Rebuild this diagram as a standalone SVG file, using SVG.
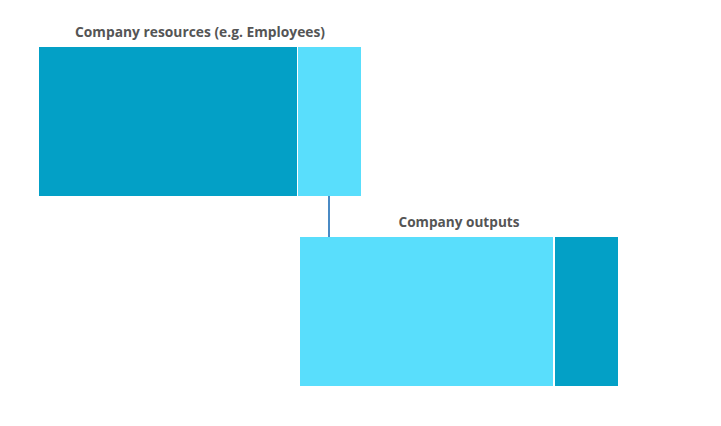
<svg xmlns="http://www.w3.org/2000/svg" width="721" height="426" viewBox="0 0 721 426">
<style>
.dark{fill:#03A0C6}
.light{fill:#59DEFC}
.lbl{font-family:"Open Sans","Liberation Sans",sans-serif;font-weight:bold;font-size:14px;fill:#555555;text-anchor:middle}
.conn{stroke:#4A8AC4;stroke-width:2;fill:none}
</style>
<rect width="721" height="426" fill="#ffffff"/>
<g id="connectors">
<line class="conn" x1="329" y1="196" x2="329" y2="237"/>
</g>
<g id="resources">
<text class="lbl" x="200" y="37" textLength="250" lengthAdjust="spacingAndGlyphs">Company resources (e.g. Employees)</text>
<rect class="dark" x="39" y="47" width="258" height="149"/>
<rect class="light" x="298" y="47" width="63" height="149"/>
</g>
<g id="outputs">
<text class="lbl" x="459" y="227" textLength="121" lengthAdjust="spacingAndGlyphs">Company outputs</text>
<rect class="light" x="300" y="237" width="253" height="149"/>
<rect class="dark" x="555" y="237" width="63" height="149"/>
</g>
</svg>
